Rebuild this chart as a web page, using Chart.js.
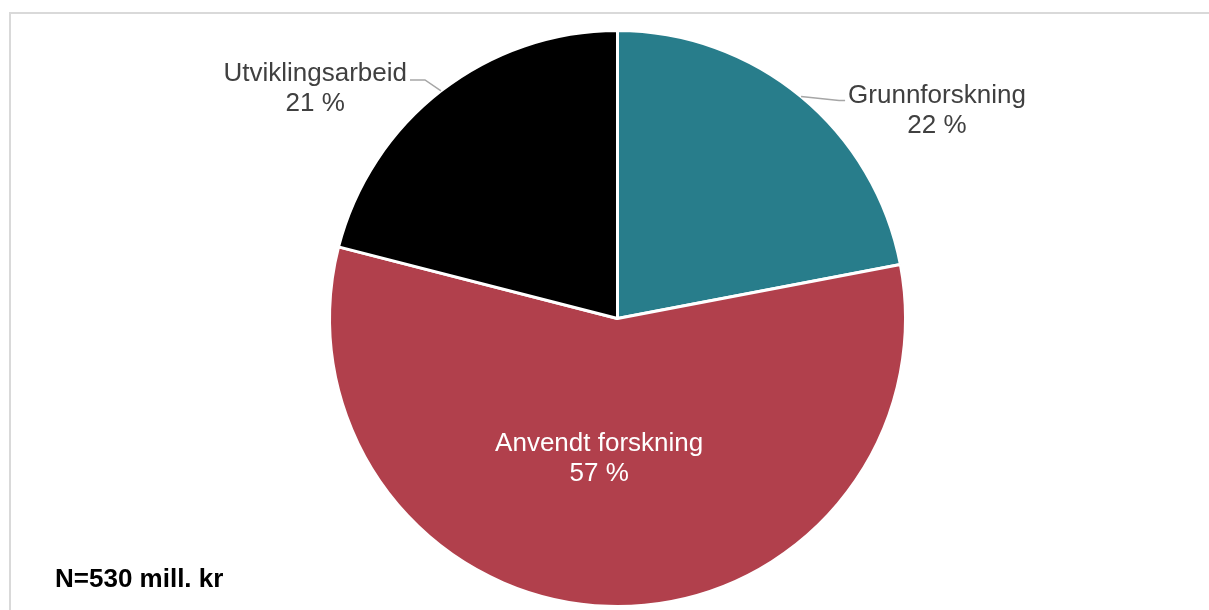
<!DOCTYPE html>
<html>
<head>
<meta charset="utf-8">
<script src="https://cdn.jsdelivr.net/npm/chart.js@4/dist/chart.umd.min.js"></script>
<style>
  html, body { margin: 0; padding: 0; background: #fff; overflow: hidden; }
  #frame { position: absolute; left: 9px; top: 12px; width: 1240px; height: 700px; border: 2px solid #d9d9d9; box-sizing: border-box; }
  #wrap { position: absolute; left: 0; top: 0; width: 1209px; height: 610px; }
</style>
</head>
<body>
<div id="frame"></div>
<div id="wrap"><canvas id="pie"></canvas></div>
<script>
const categories = ['Grunnforskning', 'Anvendt forskning', 'Utviklingsarbeid'];
const shares = [22, 57, 21];
const sliceColors = ['#287d8b', '#b1404c', '#000000'];
const totalNote = 'N=530 mill. kr';

// where each label sits relative to its slice: inside (on the slice) or outside with a leader line
const labelPlacement = [
    { outside: true, elbow: [38, 4], run: 6, side: 'right', textDy: -5 },
    { outside: false, radius: 0.48, dx: -14, dy: 2 },
    { outside: true, elbow: [-16, -11], run: 15, side: 'left', textDy: -6 }
];

const pieLabels = {
    id: 'pieLabels',
    afterDatasetsDraw(chart) {
        const ctx = chart.ctx;
        const meta = chart.getDatasetMeta(0);
        ctx.save();
        ctx.font = '26px "Liberation Sans", Arial, sans-serif';
        ctx.textBaseline = 'middle';
        ctx.textAlign = 'center';
        meta.data.forEach((arc, i) => {
            const p = arc.getProps(['x', 'y', 'startAngle', 'endAngle', 'outerRadius'], true);
            const mid = (p.startAngle + p.endAngle) / 2;
            const lines = [categories[i], shares[i] + ' %'];
            const cfg = labelPlacement[i];
            if (cfg.outside) {
                const ex = p.x + Math.cos(mid) * p.outerRadius;
                const ey = p.y + Math.sin(mid) * p.outerRadius;
                const bx = ex + cfg.elbow[0];
                const by = ey + cfg.elbow[1];
                const dir = cfg.side === 'right' ? 1 : -1;
                const tx = bx + dir * cfg.run;
                ctx.strokeStyle = '#a6a6a6';
                ctx.lineWidth = 1.5;
                ctx.beginPath();
                ctx.moveTo(ex, ey);
                ctx.lineTo(bx, by);
                ctx.lineTo(tx, by);
                ctx.stroke();
                const w = ctx.measureText(lines[0]).width;
                const cx = tx + dir * (w / 2 + 3);
                const cy = by + cfg.textDy;
                ctx.fillStyle = '#404040';
                ctx.fillText(lines[0], cx, cy);
                ctx.fillText(lines[1], cx, cy + 30);
            } else {
                const r = p.outerRadius * cfg.radius;
                const cx = p.x + Math.cos(mid) * r + cfg.dx;
                const cy = p.y + Math.sin(mid) * r + cfg.dy;
                ctx.fillStyle = '#ffffff';
                ctx.fillText(lines[0], cx, cy - 15);
                ctx.fillText(lines[1], cx, cy + 15);
            }
        });
        ctx.font = 'bold 26px "Liberation Sans", Arial, sans-serif';
        ctx.textAlign = 'left';
        ctx.fillStyle = '#000000';
        ctx.fillText(totalNote, 55, 580);
        ctx.restore();
    }
};

new Chart(document.getElementById('pie'), {
    type: 'pie',
    data: {
        labels: categories,
        datasets: [{
            data: shares,
            backgroundColor: sliceColors,
            borderColor: '#ffffff',
            borderWidth: 3
        }]
    },
    options: {
        responsive: true,
        maintainAspectRatio: false,
        animation: false,
        layout: { padding: { top: 29, bottom: 2, left: 26, right: 0 } },
        plugins: {
            legend: { display: false },
            tooltip: { enabled: false }
        }
    },
    plugins: [pieLabels]
});
</script>
</body>
</html>
